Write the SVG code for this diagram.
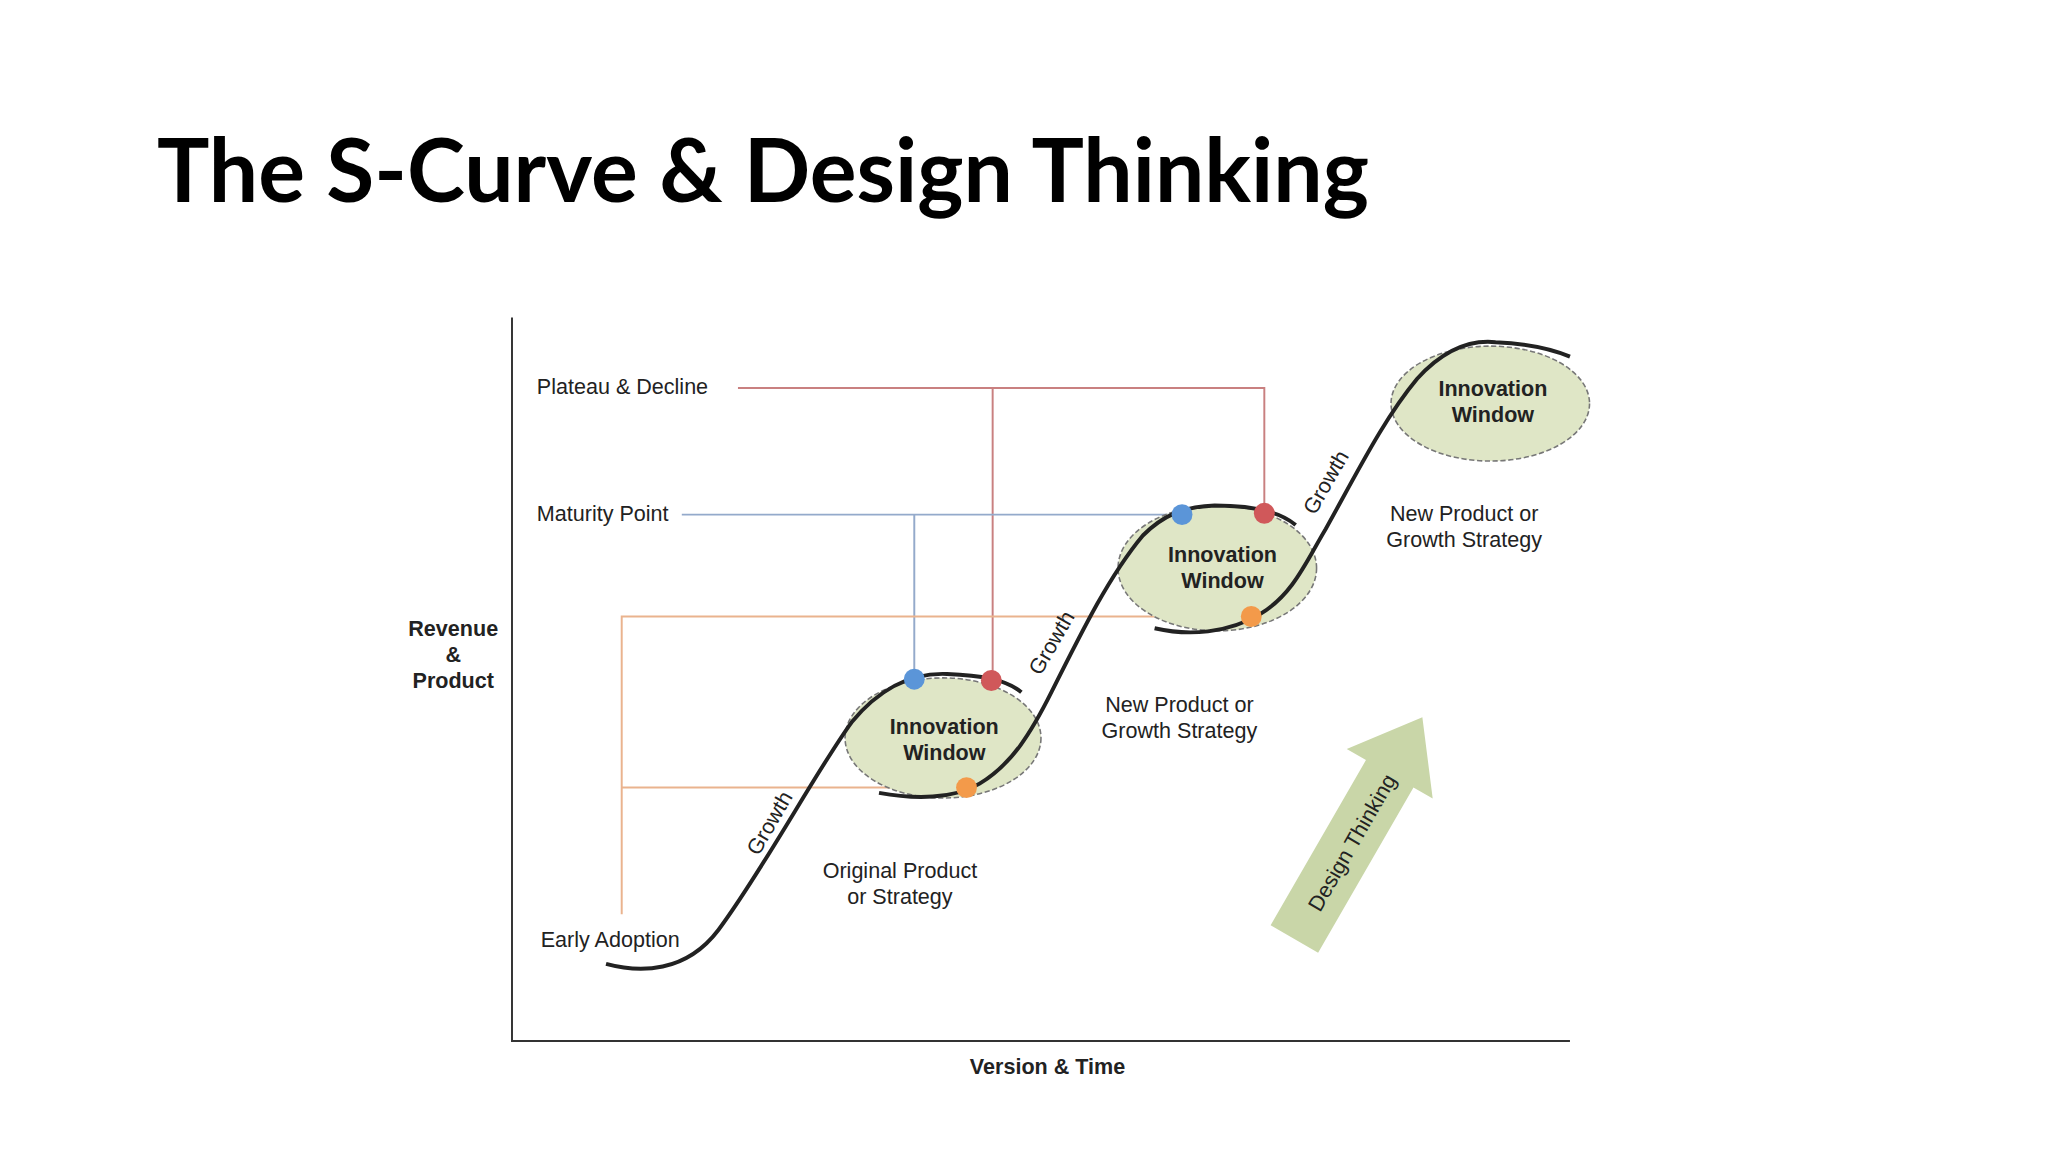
<svg xmlns="http://www.w3.org/2000/svg" width="2048" height="1152" viewBox="0 0 2048 1152">
<style>
.t{font-family:"Liberation Sans",Arial,sans-serif;fill:#222;font-size:16.5px}
.b{font-weight:bold;text-anchor:middle}
.c{text-anchor:middle}
.win{fill:#dfe6c6;stroke:#777;stroke-width:1.2;stroke-dasharray:4 2}
.curve{fill:none;stroke:#222;stroke-width:3}
.red{stroke:#c98080;stroke-width:1.5;fill:none}
.blue{stroke:#94aacb;stroke-width:1.5;fill:none}
.org{stroke:#eab38e;stroke-width:1.5;fill:none}
</style>
<rect width="2048" height="1152" fill="#fff"/>
<text x="157" y="202" font-family="Lato,'Noto Sans',sans-serif" font-weight="bold" font-size="88" textLength="1212" lengthAdjust="spacingAndGlyphs" fill="#000">The S-Curve &amp; Design Thinking</text>
<g transform="scale(1.30612)">
<g id="axes" stroke="#333" stroke-width="1.5" fill="none">
<path d="M392,243 V797 H1202"/>
</g>
<g id="connectors">
<path class="red" d="M565,297 H968 V393 M760,297 V521"/>
<path class="blue" d="M522,394 H905 M700,394 V520"/>
<path class="org" d="M476,700 V472 H958 M476,603 H740"/>
</g>
<g id="win1"><ellipse class="win" cx="722" cy="565" rx="75" ry="46"/>
<text class="t b" x="723" y="562">Innovation</text><text class="t b" x="723" y="582">Window</text></g>
<g id="win2"><ellipse class="win" cx="932" cy="435" rx="76" ry="48"/>
<text class="t b" x="936" y="430">Innovation</text><text class="t b" x="936" y="450">Window</text></g>
<g id="win3"><ellipse class="win" cx="1141" cy="309" rx="76" ry="44"/>
<text class="t b" x="1143" y="303">Innovation</text><text class="t b" x="1143" y="323">Window</text></g>
<g id="curves">
<path class="curve" d="M464,738 C490,745 525,745 550,712 C585,665 625,590 652,553 C675,525 700,515 725,516 C750,517 770,520 782,530"/>
<path class="curve" d="M673,607 C700,612 730,612 750,600 C775,585 790,560 805,530 C830,480 850,440 875,410 C890,395 905,388 930,387 C960,387 980,392 992,402"/>
<path class="curve" d="M884,481 C910,487 940,485 965,470 C990,455 1000,430 1015,405 C1040,360 1060,320 1085,290 C1105,268 1125,260 1145,262 C1170,263 1190,268 1202,273"/>
</g>
<g id="dots">
<circle cx="700" cy="520" r="8" fill="#5b95d8"/>
<circle cx="759" cy="521" r="8" fill="#d0585a"/>
<circle cx="740" cy="603" r="8" fill="#f39a4a"/>
<circle cx="905" cy="394" r="8" fill="#5b95d8"/>
<circle cx="968" cy="393" r="8" fill="#d0585a"/>
<circle cx="958" cy="472" r="8" fill="#f39a4a"/>
</g>
<g id="labels">
<text class="t" x="411" y="302">Plateau &amp; Decline</text>
<text class="t" x="411" y="399">Maturity Point</text>
<text class="t" x="414" y="725">Early Adoption</text>
<text class="t b" x="347" y="487">Revenue</text>
<text class="t b" x="347" y="507">&amp;</text>
<text class="t b" x="347" y="527">Product</text>
<text class="t b" x="802" y="822">Version &amp; Time</text>
<text class="t c" x="689" y="672">Original Product</text>
<text class="t c" x="689" y="692">or Strategy</text>
<text class="t c" x="903" y="545">New Product or</text>
<text class="t c" x="903" y="565">Growth Strategy</text>
<text class="t c" x="1121" y="399">New Product or</text>
<text class="t c" x="1121" y="419">Growth Strategy</text>
<text class="t c" font-size="14.5" transform="translate(594,633) rotate(-60)">Growth</text>
<text class="t c" font-size="14.5" transform="translate(810,495) rotate(-60)">Growth</text>
<text class="t c" font-size="14.5" transform="translate(1020,372) rotate(-60)">Growth</text>
</g>
<g id="design-thinking" transform="translate(1040,634) rotate(-60)">
<polygon points="-98,-21 48,-21 48,-38 98,0 48,38 48,21 -98,21" fill="#c9d6a8"/>
<text class="t c" font-size="21" x="-12" y="7">Design Thinking</text>
</g>
</g>
</svg>
